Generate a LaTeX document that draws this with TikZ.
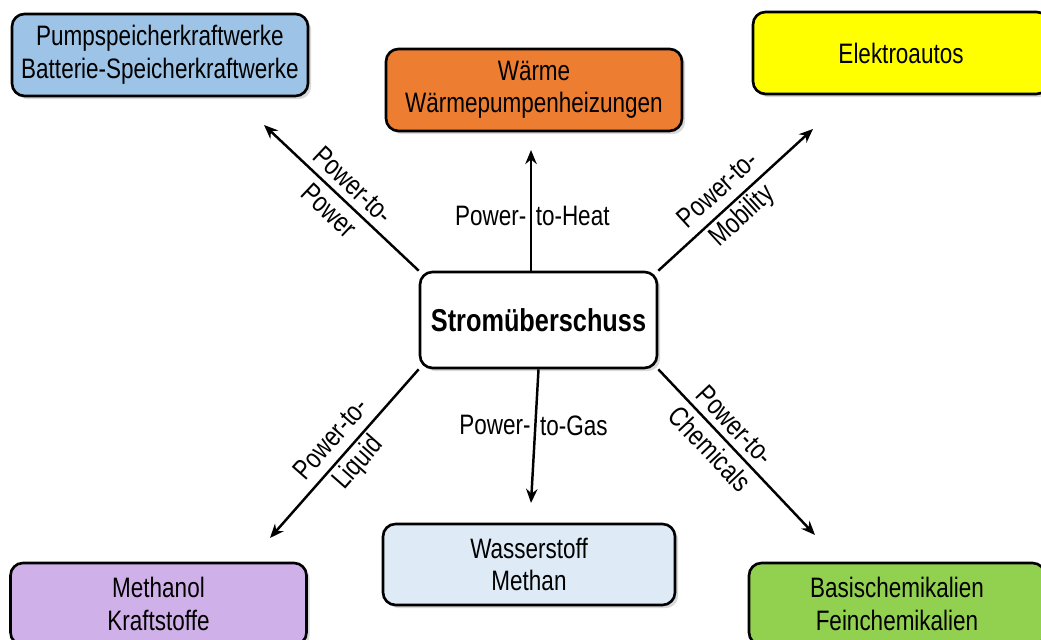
\documentclass[tikz,border=0pt]{standalone}
\usepackage{fontspec}
\setmainfont{Liberation Sans}[FakeStretch=0.8]
\usetikzlibrary{positioning, arrows.meta, shadows}

\definecolor{storeblue}{RGB}{157,195,230}
\definecolor{heatorange}{RGB}{237,125,49}
\definecolor{carsyellow}{RGB}{255,255,0}
\definecolor{fuelpurple}{RGB}{208,176,232}
\definecolor{gasblue}{RGB}{222,235,247}
\definecolor{chemgreen}{RGB}{146,208,80}

\tikzset{
  box/.style={draw, line width=1.5pt, rounded corners=0.25cm, align=center,
    minimum width=5.92cm, minimum height=1.64cm,
    font=\fontsize{16}{18.5}\selectfont,
    drop shadow={shadow xshift=1.8pt, shadow yshift=-1.8pt, opacity=0.3}},
  flow/.style={-{Stealth[length=8pt, width=6.5pt]}, line width=1.4pt},
  lbl/.style={sloped, align=center, inner sep=1pt, font=\fontsize{16}{20}\selectfont},
  side/.style={inner sep=2pt, font=\fontsize{16}{18.5}\selectfont},
}

\begin{document}
\begin{tikzpicture}
    \useasboundingbox (0,0) rectangle (20.82,12.8);

    % target boxes
    \node[box, fill=storeblue] (storage) at (3.2,11.7) {Pumpspeicherkraftwerke\\Batterie-Speicherkraftwerke};
    \node[box, fill=heatorange] (heat) at (10.68,11.0) {Wärme\\Wärmepumpenheizungen};
    \node[box, fill=carsyellow] (cars) at (18.02,11.74) {Elektroautos};
    \node[box, fill=fuelpurple] (fuel) at (3.17,0.72) {Methanol\\Kraftstoffe};
    \node[box, fill=gasblue, minimum width=5.84cm, minimum height=1.62cm] (gas) at (10.58,1.51) {Wasserstoff\\Methan};
    \node[box, fill=chemgreen] (chem) at (17.94,0.72) {Basischemikalien\\Feinchemikalien};

    % centre
    \node[box, fill=white, minimum width=4.74cm, minimum height=1.92cm,
          font=\bfseries\fontsize{18}{20}\selectfont] (surplus) at (10.77,6.4) {Stromüberschuss};

    % arrow tips
    \coordinate (toStorage) at (5.28,10.3);
    \coordinate (toHeat) at (10.62,9.8);
    \coordinate (toCars) at (16.26,10.22);
    \coordinate (toFuel) at (5.4,2.04);
    \coordinate (toGas) at (10.62,2.74);
    \coordinate (toChem) at (16.3,2.1);

    \draw[flow] (surplus.north west) -- node[lbl] {Power-to-\\Power} (toStorage);
    \draw[flow] (surplus.north -| toHeat) -- node[pos=0.45, left, side] {Power-}
        node[pos=0.45, right, side] {to-Heat} (toHeat);
    \draw[flow] (surplus.north east) -- node[lbl, pos=0.47] {Power-to-\\Mobility} (toCars);
    \draw[flow] (surplus.south west) -- node[lbl, pos=0.49] {Power-to-\\Liquid} (toFuel);
    \draw[flow] (surplus.south) -- node[pos=0.42, left, side] {Power-}
        node[pos=0.42, right, side] {to-Gas} (toGas);
    \draw[flow] (surplus.south east) -- node[lbl, pos=0.41] {Power-to-\\Chemicals} (toChem);
\end{tikzpicture}
\end{document}
